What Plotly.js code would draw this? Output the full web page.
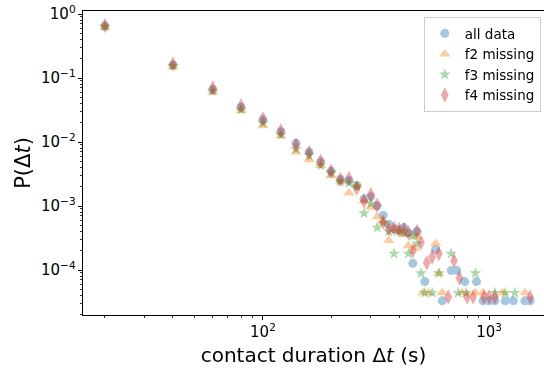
<!DOCTYPE html>
<html>
<head>
<meta charset="utf-8">
<script src="https://cdn.plot.ly/plotly-3.0.1.min.js"></script>
<style>html,body{margin:0;padding:0;background:#fff}#chart{width:544px;height:371px}</style>
</head>
<body>
<div id="chart"></div>
<script>
// ---- data ----
const seriesNames = ["all data", "f2 missing", "f3 missing", "f4 missing"];

const xAll = [20,40,60,80,100,120,140,160,180,200,220,240,260,280,300,320,340,360,380,400,420,440,460,480,520,580,620,680,720,780,880,940,1000,1060,1180,1280,1440,1520];
const yAll = [0.65,0.16,0.066,0.035,0.022,0.0145,0.0096,0.0070,0.0049,0.0035,0.0026,0.0025,0.0021,0.0013,0.0014,0.0010,0.00072,0.00052,0.00044,0.00042,0.00046,0.00038,0.000127,0.00040,0.000066,0.00021,0.000033,0.000098,0.000098,0.000066,0.000066,0.000033,0.000033,0.000033,0.000033,0.000033,0.000033,0.000033];

const xF2 = [20,40,60,80,100,120,140,160,180,200,220,240,260,280,300,320,340,360,380,400,420,440,470,480,510,540,580,600,620,760,870,940,1150,1440];
const yF2 = [0.62,0.15,0.060,0.031,0.018,0.0125,0.0070,0.0053,0.0043,0.0030,0.0024,0.0016,0.0021,0.0012,0.00096,0.00068,0.00056,0.00029,0.00042,0.00041,0.00036,0.00024,0.00022,0.00033,0.000044,0.000044,0.00026,0.000088,0.000044,0.000044,0.000044,0.000044,0.000044,0.000044];

const xF3 = [20,40,60,80,100,120,140,160,180,200,220,240,260,280,300,320,340,360,380,400,420,440,460,480,500,520,560,600,680,730,790,870,1060,1180,1300];
const yF3 = [0.64,0.155,0.063,0.032,0.020,0.013,0.0078,0.0062,0.0043,0.0033,0.0024,0.0023,0.0020,0.00077,0.0011,0.00046,0.00055,0.00040,0.00018,0.00040,0.00039,0.00018,0.00034,0.00026,0.000089,0.000044,0.000044,0.000089,0.00018,0.000044,0.000044,0.000089,0.000044,0.000044,0.000044];

const xF4 = [20,40,60,80,100,120,140,160,180,200,220,240,260,280,300,320,340,360,380,400,420,440,460,480,500,530,560,600,660,700,740,800,850,950,1000,1060,1520];
const yF4 = [0.66,0.165,0.070,0.037,0.023,0.015,0.0090,0.0068,0.0050,0.0035,0.0026,0.0027,0.0019,0.0012,0.0015,0.00103,0.00056,0.00044,0.00045,0.00043,0.00043,0.00038,0.00020,0.00040,0.00027,0.00013,0.00016,0.00018,0.000038,0.00014,0.000075,0.000038,0.000038,0.000038,0.000038,0.000038,0.000038];

const xTitle = "contact duration Δ<i>t</i> (s)";
const yTitle = "P(Δ<i>t</i>)";

// ---- traces ----
const styles = [
  {color: "#1f77b4", symbol: "circle", size: 9},
  {color: "#ff7f0e", symbol: "triangle-up", size: 10},
  {color: "#2ca02c", symbol: "star", size: 9},
  {color: "#d62728", symbol: "diamond-tall", size: 11}
];
const xs = [xAll, xF2, xF3, xF4];
const ys = [yAll, yF2, yF3, yF4];

const traces = xs.map((x, i) => ({
  type: "scatter",
  mode: "markers",
  name: seriesNames[i],
  x: x,
  y: ys[i],
  opacity: 0.4,
  marker: {color: styles[i].color, symbol: styles[i].symbol, size: styles[i].size, line: {width: 0}}
}));

const axisCommon = {
  type: "log",
  showgrid: false,
  zeroline: false,
  showline: true,
  linecolor: "#000",
  linewidth: 1,
  mirror: true,
  ticks: "outside",
  ticklen: 4,
  tickwidth: 1,
  tickcolor: "#000",
  dtick: 1,
  exponentformat: "power",
  labelalias: {"1": "10<sup>0</sup>"},
  tickfont: {family: "DejaVu Sans", size: 12, color: "#000"},
  minor: {ticks: "outside", ticklen: 2, tickwidth: 0.8, tickcolor: "#000", showgrid: false}
};

const layout = {
  width: 544,
  height: 371,
  margin: {l: 83, r: 0, t: 11, b: 56},
  paper_bgcolor: "#fff",
  plot_bgcolor: "#fff",
  font: {family: "DejaVu Sans", color: "#000"},
  showlegend: true,
  legend: {
    x: 0.993, y: 0.98, xanchor: "right", yanchor: "top",
    bgcolor: "rgba(255,255,255,0.8)",
    bordercolor: "#cccccc",
    borderwidth: 1,
    font: {family: "DejaVu Sans", size: 13.5, color: "#000"},
    tracegroupgap: 0,
    itemwidth: 30
  },
  xaxis: Object.assign({}, axisCommon, {
    range: [Math.log10(16), 3.243],
    title: {text: xTitle, font: {family: "DejaVu Sans", size: 20, color: "#000"}, standoff: 7}
  }),
  yaxis: Object.assign({}, axisCommon, {
    range: [-4.703, 0.047],
    title: {text: yTitle, font: {family: "DejaVu Sans", size: 21, color: "#000"}, standoff: 4}
  })
};

Plotly.newPlot("chart", traces, layout, {displayModeBar: false, staticPlot: true});
</script>
</body>
</html>
